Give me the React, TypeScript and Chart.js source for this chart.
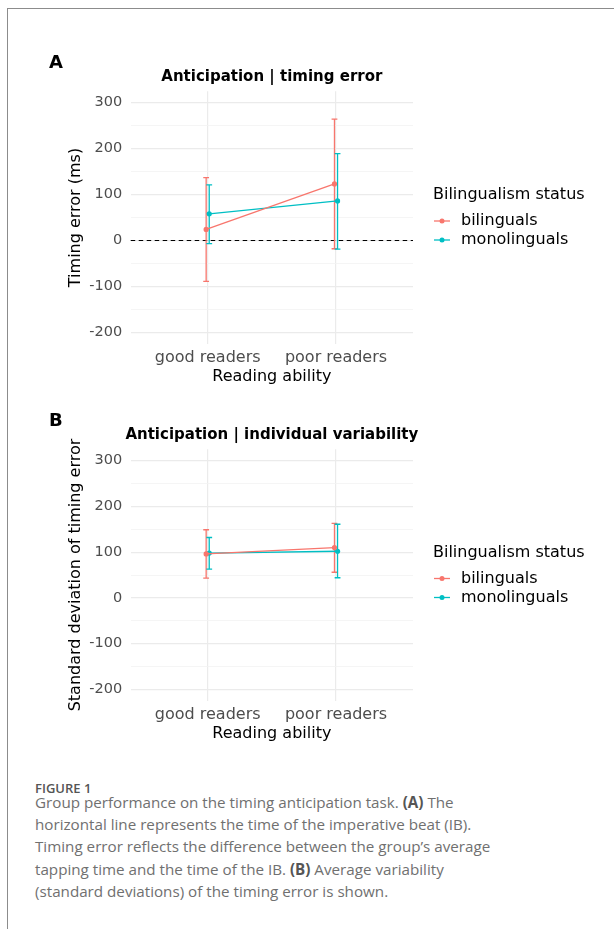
import React, { useEffect, useRef } from "react";
import { Chart, registerables } from "chart.js";

Chart.register(...registerables);

// ---------- data ----------
const categories = ["good readers", "poor readers"];
const seriesNames = ["bilinguals", "monolinguals"];
const seriesColors = ["#F8766D", "#00BFC4"];
const yTickValues = [-200, -150, -100, -50, 0, 50, 100, 150, 200, 250, 300];
const legendTitle = "Bilingualism status";
const xAxisTitle = "Reading ability";

// Panel A: timing error (ms)
const aBilingualMean = [24, 123];
const aBilingualLow = [-89, -18];
const aBilingualHigh = [137, 264];
const aMonolingualMean = [58, 86];
const aMonolingualLow = [-7, -19];
const aMonolingualHigh = [121, 189];

// Panel B: standard deviation of timing error
const bBilingualMean = [96, 110];
const bBilingualLow = [43, 56];
const bBilingualHigh = [149, 163];
const bMonolingualMean = [98, 102];
const bMonolingualLow = [63, 44];
const bMonolingualHigh = [132, 161];

const dodgeOffsets = [-0.012, 0.012];

const FONT = "'DejaVu Sans', sans-serif";

type Series = { mean: number[]; low: number[]; high: number[] };
type PanelSpec = {
  letter: string;
  title: string;
  yTitle: string;
  series: Series[];
  zeroLine: boolean;
  padTop: number;
  padBottom: number;
};

const decorPlugin = {
  id: "decor",
  beforeDatasetsDraw(chart: any, _args: any, opts: any) {
    const { ctx, chartArea, scales } = chart;
    ctx.save();
    if (opts.zeroLine) {
      const y = scales.y.getPixelForValue(0);
      ctx.strokeStyle = "#000000";
      ctx.lineWidth = 1.1;
      ctx.setLineDash([4.5, 3.5]);
      ctx.beginPath();
      ctx.moveTo(chartArea.left, y);
      ctx.lineTo(chartArea.right, y);
      ctx.stroke();
      ctx.setLineDash([]);
    }
    // error bars
    chart.data.datasets.forEach((ds: any) => {
      ctx.strokeStyle = ds.borderColor;
      ctx.lineWidth = 1.3;
      ds.data.forEach((d: any) => {
        const x = scales.x.getPixelForValue(d.x);
        const y1 = scales.y.getPixelForValue(d.lo);
        const y2 = scales.y.getPixelForValue(d.hi);
        ctx.beginPath();
        ctx.moveTo(x, y1);
        ctx.lineTo(x, y2);
        ctx.moveTo(x - 2.9, y1);
        ctx.lineTo(x + 2.9, y1);
        ctx.moveTo(x - 2.9, y2);
        ctx.lineTo(x + 2.9, y2);
        ctx.stroke();
      });
    });
    ctx.restore();
  },
  afterDraw(chart: any, _args: any, opts: any) {
    const { ctx, chartArea } = chart;
    ctx.save();
    ctx.fillStyle = "#000000";
    ctx.textBaseline = "alphabetic";
    // panel letter
    ctx.font = `bold 18px ${FONT}`;
    ctx.textAlign = "left";
    ctx.fillText(opts.letter, 49, opts.letterBaseline);
    // title
    ctx.font = `bold 15px ${FONT}`;
    ctx.textAlign = "center";
    ctx.fillText(opts.title, (chartArea.left + chartArea.right) / 2, chartArea.top - 10.6);
    // legend
    const cy = (chartArea.top + chartArea.bottom) / 2;
    const lx = chartArea.right + 20;
    ctx.textAlign = "left";
    ctx.font = `16px ${FONT}`;
    ctx.fillStyle = "#000000";
    ctx.fillText(legendTitle, lx, cy - 18.3);
    seriesNames.forEach((name, i) => {
      const y = cy + 3.5 + i * 19;
      ctx.strokeStyle = seriesColors[i];
      ctx.lineWidth = 1.3;
      ctx.beginPath();
      ctx.moveTo(lx + 1, y);
      ctx.lineTo(lx + 17, y);
      ctx.stroke();
      ctx.fillStyle = seriesColors[i];
      ctx.beginPath();
      ctx.arc(lx + 9, y, 2.5, 0, Math.PI * 2);
      ctx.fill();
      ctx.fillStyle = "#000000";
      ctx.textBaseline = "middle";
      ctx.fillText(name, lx + 28, y);
      ctx.textBaseline = "alphabetic";
    });
    ctx.restore();
  },
};

function buildConfig(p: PanelSpec, letterBaseline: number): any {
  return {
    type: "line",
    data: {
      datasets: p.series.map((s, si) => ({
        label: seriesNames[si],
        data: categories.map((_, ci) => ({
          x: ci + 1 + dodgeOffsets[si],
          y: s.mean[ci],
          lo: s.low[ci],
          hi: s.high[ci],
        })),
        borderColor: seriesColors[si],
        backgroundColor: seriesColors[si],
        borderWidth: 1.3,
        pointRadius: 2.6,
        pointHoverRadius: 2.6,
        pointBorderWidth: 0,
        tension: 0,
        fill: false,
      })),
    },
    options: {
      animation: false,
      responsive: false,
      devicePixelRatio: 1,
      events: [],
      layout: { padding: { left: 0, right: 201, top: p.padTop, bottom: p.padBottom } },
      plugins: {
        legend: { display: false },
        title: { display: false },
        tooltip: { enabled: false },
        decor: {
          letter: p.letter,
          title: p.title,
          zeroLine: p.zeroLine,
          letterBaseline,
        },
      },
      scales: {
        x: {
          type: "linear",
          min: 0.4,
          max: 2.6,
          afterBuildTicks: (scale: any) => {
            scale.ticks = categories.map((_, i) => ({ value: i + 1 }));
          },
          afterFit: (scale: any) => {
            scale.height = 42.6;
          },
          ticks: {
            autoSkip: false,
            maxRotation: 0,
            padding: 4.4,
            color: "#4D4D4D",
            font: { family: FONT, size: 16 },
            callback: (v: any) => categories[Math.round(v) - 1] ?? "",
          },
          grid: { color: "#EBEBEB", lineWidth: 1.2, drawTicks: false },
          border: { display: false },
          title: {
            display: true,
            text: xAxisTitle,
            color: "#000000",
            font: { family: FONT, size: 16 },
            padding: { top: 0, bottom: 0 },
          },
        },
        y: {
          type: "linear",
          min: -225,
          max: 325,
          afterBuildTicks: (scale: any) => {
            scale.ticks = yTickValues.map((v) => ({ value: v }));
          },
          afterFit: (scale: any) => {
            scale.width = 130.7;
          },
          ticks: {
            autoSkip: false,
            padding: 8.5,
            color: "#4D4D4D",
            font: { family: FONT, size: 14.5 },
            callback: (v: any) => (v % 100 === 0 ? String(v) : ""),
          },
          grid: {
            drawTicks: false,
            color: (c: any) => (c.tick && c.tick.value % 100 === 0 ? "#EBEBEB" : "#F2F2F2"),
            lineWidth: (c: any) => (c.tick && c.tick.value % 100 === 0 ? 1.2 : 0.8),
          },
          border: { display: false },
          title: {
            display: true,
            text: p.yTitle,
            color: "#000000",
            font: { family: FONT, size: 16 },
            padding: { top: 66.4, bottom: 0 },
          },
        },
      },
    },
    plugins: [decorPlugin],
  };
}

function Panel({ spec, top, letterBaseline }: { spec: PanelSpec; top: number; letterBaseline: number }) {
  const ref = useRef<HTMLCanvasElement | null>(null);
  useEffect(() => {
    if (!ref.current) return;
    const chart = new Chart(ref.current, buildConfig(spec, letterBaseline));
    return () => chart.destroy();
  }, []);
  return (
    <div style={{ position: "absolute", left: 0, top, width: 614, height: 365 }}>
      <canvas ref={ref} width={614} height={365} style={{ width: 614, height: 365, display: "block" }} />
    </div>
  );
}

const panelA: PanelSpec = {
  letter: "A",
  title: "Anticipation | timing error",
  yTitle: "Timing error (ms)",
  series: [
    { mean: aBilingualMean, low: aBilingualLow, high: aBilingualHigh },
    { mean: aMonolingualMean, low: aMonolingualLow, high: aMonolingualHigh },
  ],
  zeroLine: true,
  padTop: 61.2,
  padBottom: 8.6,
};

const panelB: PanelSpec = {
  letter: "B",
  title: "Anticipation | individual variability",
  yTitle: "Standard deviation of timing error",
  series: [
    { mean: bBilingualMean, low: bBilingualLow, high: bBilingualHigh },
    { mean: bMonolingualMean, low: bMonolingualLow, high: bMonolingualHigh },
  ],
  zeroLine: false,
  padTop: 54.3,
  padBottom: 16.7,
};

export default function App() {
  return (
    <div style={{ position: "absolute", left: 0, top: 0, width: 614, height: 929, overflow: "hidden", background: "#ffffff" }}>
      <div
        style={{
          position: "absolute",
          left: 7,
          top: 8,
          width: 607,
          height: 921,
          boxSizing: "border-box",
          borderTop: "1px solid #8c8c8c",
          borderLeft: "1px solid #8c8c8c",
        }}
      />
      <Panel spec={panelA} top={30} letterBaseline={38} />
      <Panel spec={panelB} top={395} letterBaseline={31} />
      <div
        style={{
          position: "absolute",
          left: 35,
          top: 781.5,
          fontFamily: "'Open Sans', sans-serif",
          fontSize: 13,
          lineHeight: "13px",
          fontWeight: 600,
          color: "#555555",
          whiteSpace: "nowrap",
        }}
      >
        FIGURE 1
      </div>
      <div
        style={{
          position: "absolute",
          left: 35,
          top: 790.5,
          fontFamily: "'Open Sans', sans-serif",
          fontSize: 15.2,
          lineHeight: "22.4px",
          fontWeight: 400,
          color: "#707070",
          whiteSpace: "nowrap",
        }}
      >
        Group performance on the timing anticipation task. <b style={{ color: "#555" }}>(A)</b> The
        <br />
        horizontal line represents the time of the imperative beat (IB).
        <br />
        Timing error reflects the difference between the group’s average
        <br />
        tapping time and the time of the IB. <b style={{ color: "#555" }}>(B)</b> Average variability
        <br />
        (standard deviations) of the timing error is shown.
      </div>
    </div>
  );
}
